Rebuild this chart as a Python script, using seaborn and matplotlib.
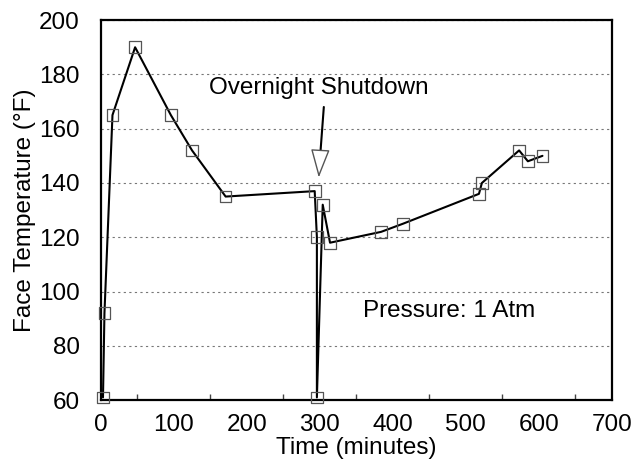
import matplotlib
matplotlib.use('Agg')
import matplotlib.pyplot as plt
from matplotlib.ticker import MultipleLocator
import seaborn as sns
import pandas as pd

# face temperature readings
time_min = [3, 5, 16, 47, 96, 125, 171, 293, 296, 296, 304, 314, 384, 414, 518, 522, 573, 585, 605]
face_temp = [61, 92, 165, 190, 165, 152, 135, 137, 120, 61, 132, 118, 122, 125, 136, 140, 152, 148, 150]

df = pd.DataFrame({'time': time_min, 'temp': face_temp})

sns.set_theme(style="white")
plt.rcParams['font.family'] = ['Liberation Sans', 'DejaVu Sans']
plt.rcParams['text.color'] = 'black'
plt.rcParams['axes.labelcolor'] = 'black'
plt.rcParams['xtick.labelcolor'] = 'black'
plt.rcParams['ytick.labelcolor'] = 'black'

fig = plt.figure(figsize=(6.42, 4.68), dpi=100)
ax = fig.add_axes([0.157, 0.145, 0.796, 0.812])

sns.lineplot(data=df, x='time', y='temp', sort=False, estimator=None,
             color='black', linewidth=1.5, ax=ax, zorder=3)
sns.scatterplot(data=df, x='time', y='temp', marker='s', s=70,
                facecolor='none', edgecolor='#555555', linewidth=0.9, ax=ax,
                zorder=4, clip_on=False)

ax.set_xlim(0, 700)
ax.set_ylim(60, 200)
ax.xaxis.set_major_locator(MultipleLocator(100))
ax.xaxis.set_minor_locator(MultipleLocator(50))
ax.yaxis.set_major_locator(MultipleLocator(20))
ax.tick_params(axis='x', which='major', labelsize=17.5, direction='in', length=5,
               color='#444444', pad=10)
ax.tick_params(axis='x', which='minor', direction='in', length=4, color='#444444', bottom=True)
ax.tick_params(axis='y', labelsize=17.5, left=False, pad=9)
ax.grid(axis='y', linestyle=(0, (2, 3)), color='#777777', linewidth=0.8)

for s in ax.spines.values():
    s.set_color('black')
    s.set_linewidth(1.6)

ax.set_xlabel('Time (minutes)', fontsize=17.5, labelpad=1)
ax.set_ylabel('Face Temperature (°F)', fontsize=17.5, labelpad=2)

ax.text(298, 175, 'Overnight Shutdown', fontsize=17.5, ha='center', va='center')
ax.plot([305.5, 300.5], [168, 150], color='black', linewidth=1.5)
ax.annotate('', xy=(298.6, 142), xytext=(300.5, 151),
            arrowprops=dict(arrowstyle='-|>,head_length=1.5,head_width=0.5',
                            facecolor='white', edgecolor='#555555', linewidth=1.0,
                            shrinkA=0, shrinkB=0))
ax.text(477, 93, 'Pressure: 1 Atm', fontsize=17.5, ha='center', va='center')

plt.savefig('out.png', dpi=100)
plt.close()
